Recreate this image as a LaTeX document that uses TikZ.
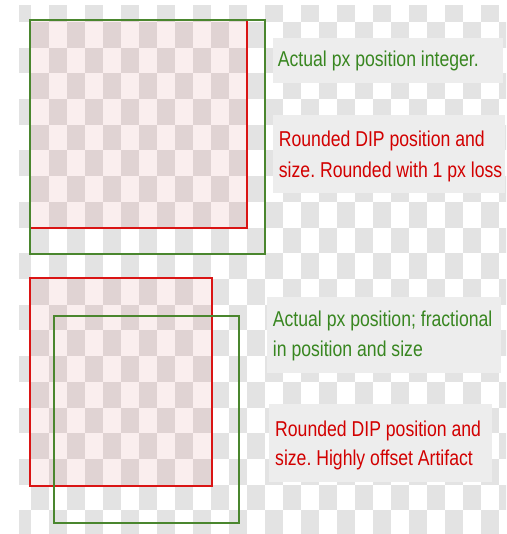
\documentclass[tikz,border=0pt]{standalone}
\usepackage{fontspec}
\setmainfont{Liberation Sans}
\usepackage{graphicx}
\frenchspacing
\definecolor{chk}{RGB}{227,227,227}
\definecolor{lblbg}{RGB}{237,237,237}
\definecolor{gline}{RGB}{74,134,46}
\definecolor{rline}{RGB}{218,20,20}
\definecolor{gtext}{RGB}{56,134,32}
\definecolor{rtext}{RGB}{210,0,0}
\definecolor{pinkov}{RGB}{190,0,0}
\newcommand{\lblx}[1]{\scalebox{0.82}[1]{#1}}
\tikzset{
  lbltext/.style={anchor=base west, inner sep=0pt, font=\fontsize{21.5}{31}\selectfont},
  gt/.style={lbltext, text=gtext},
  rt/.style={lbltext, text=rtext},
  lblbox/.style={fill=lblbg},
  gframe/.style={draw=gline, line width=1.8pt},
  rframe/.style={draw=rline, line width=1.8pt},
  pinkfill/.style={fill=pinkov, fill opacity=0.065}
}
\begin{document}
\begin{tikzpicture}[x=1pt,y=-1pt]
\useasboundingbox (0,0) rectangle (506,534);
\fill[white] (0,0) rectangle (506,534);
% checkerboard
\begin{scope}
\clip (19,6) rectangle (506,534);
\foreach \i in {0,...,27}{
  \foreach \j in {0,...,20}{
    \ifodd\numexpr\i+\j\relax\else
      \fill[chk] ({13+18*\i},{-3.7+25.7*\j}) rectangle ++(18,25.7);
    \fi
  }
}
\end{scope}
% top rectangles
\fill[pinkfill] (30,20) rectangle (247,228);
\draw[rframe] (30,20) rectangle (247,228);
\draw[gframe] (30,20) rectangle (265,254);
% bottom rectangles
\fill[pinkfill] (30,278) rectangle (212,486);
\draw[rframe] (30,278) rectangle (212,486);
\draw[gframe] (54,316) rectangle (239,523);
% label boxes
\fill[lblbox] (272.7,37.7) rectangle (503,83);
\fill[lblbox] (273.3,115) rectangle (505,192.7);
\fill[lblbox] (267,296.7) rectangle (500.7,372.7);
\fill[lblbox] (269,404) rectangle (491.7,481.7);
% texts
\node[gt] (t1) at (277.7,66.7) {\lblx{Actual px position integer.}};
\node[rt] (t2a) at (278.7,146.7) {\lblx{Rounded DIP position and}};
\node[rt] (t2b) at (278.7,178) {\lblx{size. Rounded with 1 px loss}};
\node[gt] (t3a) at (272.7,326.7) {\lblx{Actual px position; fractional}};
\node[gt] (t3b) at (272.7,356.7) {\lblx{in position and size}};
\node[rt] (t4a) at (275,436.7) {\lblx{Rounded DIP position and}};
\node[rt] (t4b) at (275,465) {\lblx{size. Highly offset Artifact}};
\end{tikzpicture}
\end{document}
